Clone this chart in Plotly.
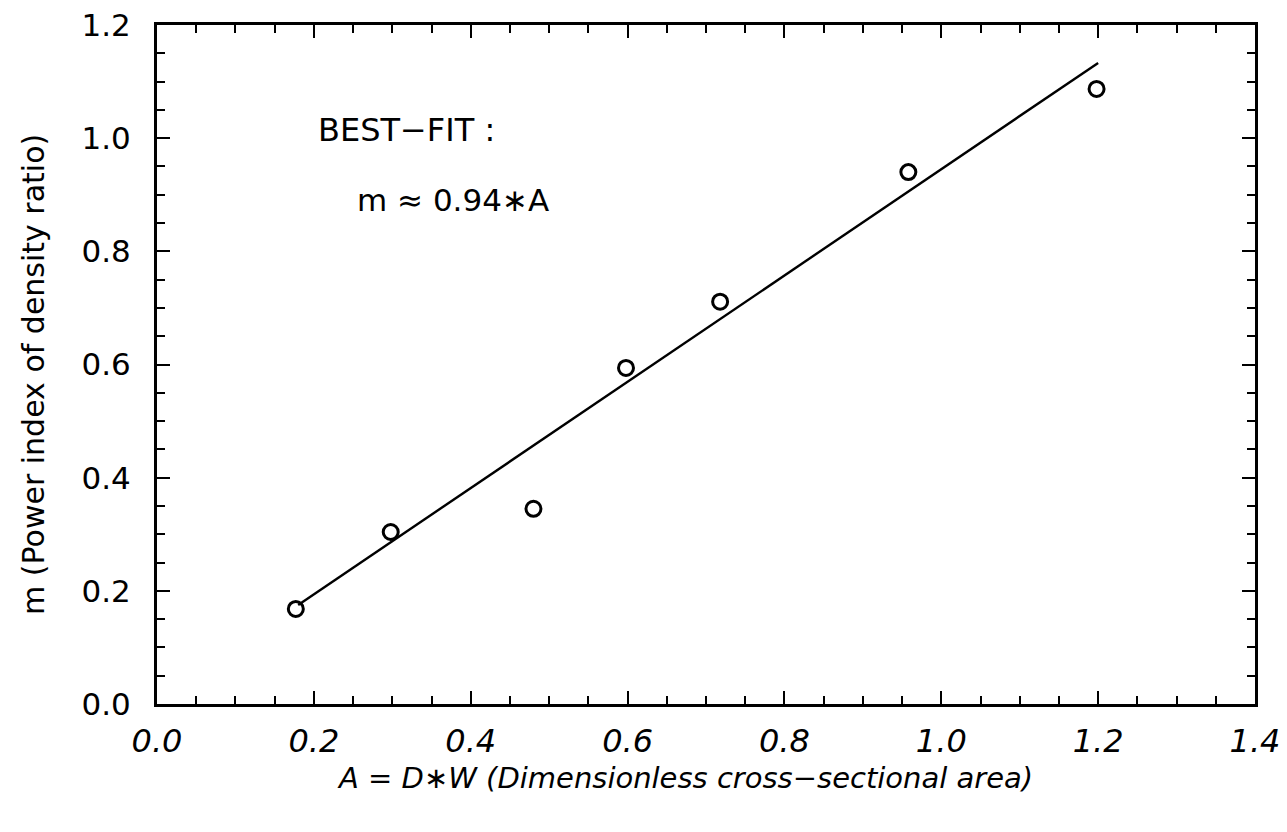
import plotly.graph_objects as go

# data
area_A = [0.177, 0.298, 0.480, 0.598, 0.718, 0.958, 1.198]
index_m = [0.168, 0.304, 0.345, 0.594, 0.711, 0.940, 1.087]
fit_A = [0.18, 1.20]
fit_m = [0.175, 1.133]
x_ticks = [0.0, 0.2, 0.4, 0.6, 0.8, 1.0, 1.2, 1.4]
y_ticks = [0.0, 0.2, 0.4, 0.6, 0.8, 1.0, 1.2]

FONT = "DejaVu Sans"

fig = go.Figure()
fig.add_trace(go.Scatter(x=fit_A, y=fit_m, mode="lines",
                         line=dict(color="black", width=2.4), showlegend=False))
fig.add_trace(go.Scatter(x=area_A, y=index_m, mode="markers",
                         marker=dict(symbol="circle-open", size=15, color="black",
                                     line=dict(width=3, color="black")),
                         showlegend=False))

fig.add_annotation(x=0.203, y=1.014, xref="x", yref="y", text="BEST−FIT :",
                   showarrow=False, xanchor="left", yanchor="middle",
                   font=dict(family=FONT, size=32, color="black"))
fig.add_annotation(x=0.253, y=0.891, xref="x", yref="y", text="m ≈ 0.94∗A",
                   showarrow=False, xanchor="left", yanchor="middle",
                   font=dict(family=FONT, size=31, color="black"))

# axis titles
fig.add_annotation(x=0.481, y=-0.109, xref="paper", yref="paper",
                   text="<i>A = D∗W (Dimensionless cross−sectional area)</i>",
                   showarrow=False, xanchor="center", yanchor="middle",
                   font=dict(family=FONT, size=29, color="black"))
fig.add_annotation(x=-0.113, y=0.486, xref="paper", yref="paper",
                   text="m (Power index of density ratio)", textangle=-90,
                   showarrow=False, xanchor="center", yanchor="middle",
                   font=dict(family=FONT, size=30, color="black"))

# page body has an 8px margin, so the figure is shifted by 8px
fig.update_layout(
    width=1279, height=824,
    margin=dict(l=149, r=32, t=17, b=128),
    paper_bgcolor="white", plot_bgcolor="white",
    font=dict(family=FONT, color="black"),
)
fig.update_xaxes(
    range=[0, 1.4], tickvals=x_ticks, automargin=False,
    ticktext=[f"<i>{v:.1f}</i>" for v in x_ticks],
    tickfont=dict(size=32, family=FONT), ticks="inside", ticklen=13, tickwidth=2,
    tickcolor="black", showline=True, linecolor="black", linewidth=3,
    mirror="allticks", showgrid=False, zeroline=False,
    ticklabelstandoff=7, ticklabeloverflow="allow",
    minor=dict(dtick=0.05, ticks="inside", ticklen=8, tickwidth=2, tickcolor="black", showgrid=False),
)
fig.update_yaxes(
    range=[0, 1.2], tickvals=y_ticks, automargin=False,
    ticktext=[f"{v:.1f}" for v in y_ticks],
    tickfont=dict(size=31, family=FONT), ticks="inside", ticklen=13, tickwidth=2,
    tickcolor="black", showline=True, linecolor="black", linewidth=3,
    mirror="allticks", showgrid=False, zeroline=False,
    ticklabelstandoff=17, ticklabeloverflow="allow",
    minor=dict(dtick=0.05, ticks="inside", ticklen=8, tickwidth=2, tickcolor="black", showgrid=False),
)

fig.write_html("out.html")
